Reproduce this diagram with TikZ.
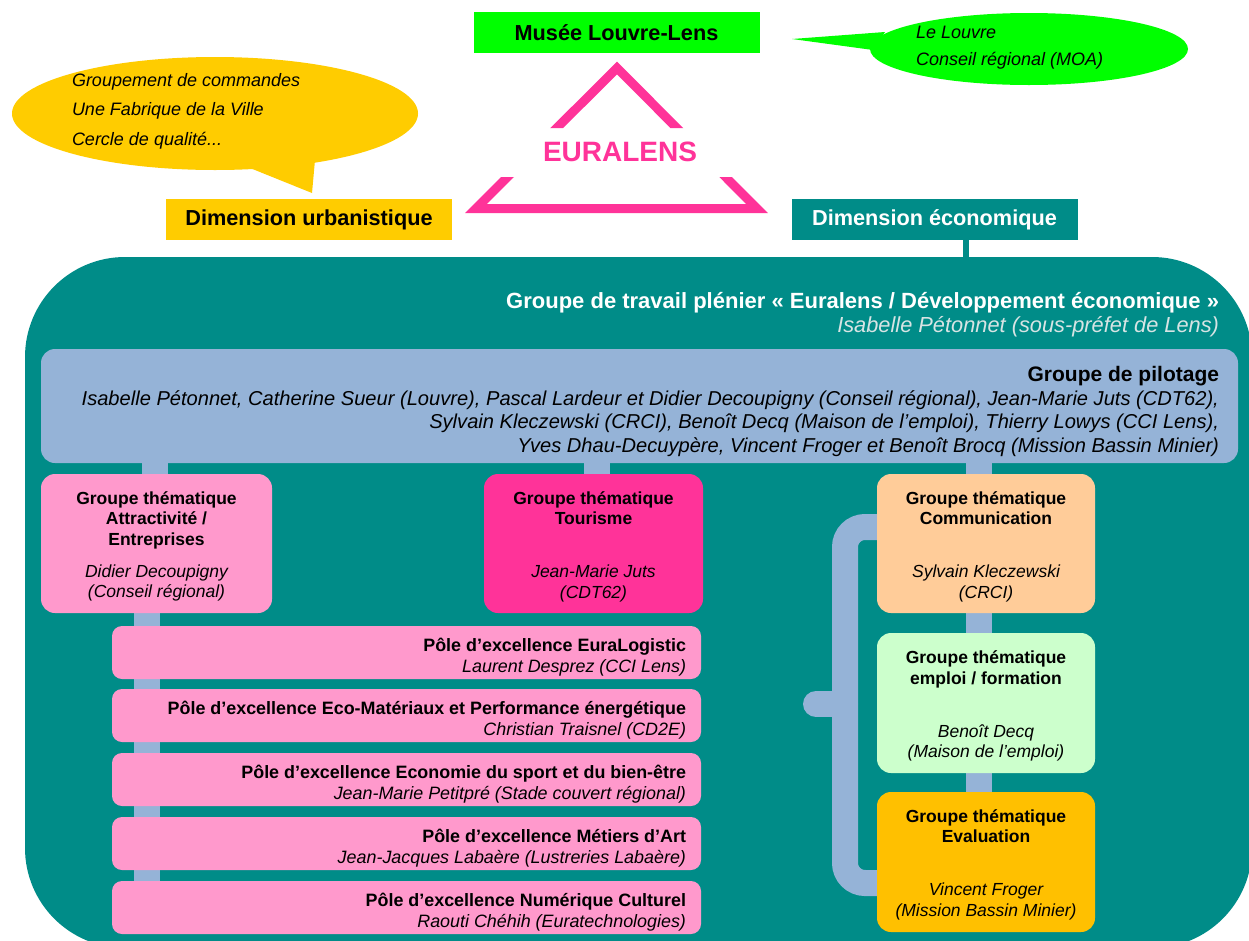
\documentclass[tikz,border=0pt]{standalone}
\usepackage{fontspec}
\setmainfont{Liberation Sans}
\usetikzlibrary{shapes.geometric,calc}
\definecolor{euteal}{RGB}{0,140,136}
\definecolor{pilblue}{RGB}{149,179,215}
\definecolor{rosel}{RGB}{255,153,204}
\definecolor{roseh}{RGB}{255,51,153}
\definecolor{peach}{RGB}{255,204,153}
\definecolor{vertp}{RGB}{204,255,204}
\definecolor{ordor}{RGB}{255,192,0}
\definecolor{jaune}{RGB}{255,204,0}
\definecolor{vertv}{RGB}{0,255,0}
\definecolor{grisc}{RGB}{215,228,228}
\newcommand\fsz[2]{\fontsize{#1}{#2}\selectfont}
\newcommand\nm[1]{{\mdseries\itshape #1}}
\pgfdeclarelayer{bg}\pgfdeclarelayer{conn}\pgfsetlayers{bg,conn,main}
\begin{document}
\begin{tikzpicture}[x=1pt,y=-1pt,
  every node/.style={inner sep=0pt,outer sep=0pt},
  head/.style={fill=#1, minimum width=286pt, minimum height=41pt, font=\fsz{21.7}{24}\bfseries},
  bubtxt/.style={anchor=west, font=\fsz{18}{22}\itshape},
  tbox/.style={rounded corners=14pt, minimum height=139pt},
  ttxt/.style={align=center, font=\fsz{17.5}{20.5}\bfseries},
  pole/.style={fill=rosel, rounded corners=10pt, minimum width=589pt, minimum height=53pt},
  ptxt/.style={anchor=east, align=right, font=\fsz{17.9}{21}\bfseries},
  link/.style={draw=pilblue, line width=26pt}]
\useasboundingbox (0,0) rectangle (1249,940);
\begin{pgfonlayer}{bg}
\fill[white] (0,0) rectangle (1249,940);
\end{pgfonlayer}

% yellow speech bubble
\node[ellipse, fill=jaune, minimum width=406pt, minimum height=113pt] (bubU) at (215,113.5) {};
\fill[jaune] (245,166) -- (312,193) -- (315,160) -- cycle;
\node[bubtxt] (bu1) at (72,82) {Groupement de commandes};
\node[bubtxt] (bu2) at (72,111) {Une Fabrique de la Ville};
\node[bubtxt] (bu3) at (72,141) {Cercle de qualité...};

\node[head=jaune] (urb) at (309,219.5) {Dimension urbanistique};
\node[head=vertv] (musee) at (616.5,32.5) {Musée Louvre-Lens};

% green speech bubble
\node[ellipse, fill=vertv, minimum width=318pt, minimum height=72pt] (bubL) at (1029,49) {};
\fill[vertv] (792,39) -- (885,32) -- (873,50) -- cycle;
\node[bubtxt] (bl1) at (916,32) {Le Louvre};
\node[bubtxt] (bl2) at (916,61) {Conseil régional (MOA)};

% triangle
\begin{scope}
\clip (430,40) rectangle (800,128) (430,177) rectangle (800,230);
\draw[roseh, line width=9pt, line join=miter] (476,208.5) -- (617,68) -- (757,208.5) -- cycle;
\end{scope}
\node[font=\fsz{28}{32}\bfseries, text=roseh] (eura) at (620,152) {EURALENS};

\node[head=euteal, text=white] (eco) at (934.5,219.5) {Dimension économique};

% container
\begin{pgfonlayer}{bg}
\node[fill=euteal, rounded corners=100pt, minimum width=1227pt, minimum height=691pt, anchor=north west] (plen) at (25,257) {};
\end{pgfonlayer}
\draw[euteal, line width=6pt] ($(eco.south)+(31.5,0)$) -- ($(eco.south |- plen.north)+(31.5,0)$);

\node[anchor=east, text=white, font=\fsz{22}{24}\bfseries] (gtp) at (1219,303) {Groupe de travail plénier « Euralens / Développement économique »};
\node[anchor=east, text=grisc, font=\fsz{21.8}{24}\itshape] (gtpn) at (1219,327) {Isabelle Pétonnet (sous-préfet de Lens)};

% pilotage
\node[fill=pilblue, rounded corners=14pt, minimum width=1197pt, minimum height=114pt] (pil) at (639.5,406) {};
\node[anchor=east, align=right, font=\fsz{20.1}{23.7}\itshape] (piltxt) at ($(pil.east)+(-19,5.5)$)
 {{\fsz{21}{23.7}\bfseries\upshape Groupe de pilotage}\\
  Isabelle Pétonnet, Catherine Sueur (Louvre), Pascal Lardeur et Didier Decoupigny (Conseil régional), Jean-Marie Juts (CDT62),\\
  Sylvain Kleczewski (CRCI), Benoît Decq (Maison de l'emploi), Thierry Lowys (CCI Lens),\\
  Yves Dhau-Decuypère, Vincent Froger et Benoît Brocq (Mission Bassin Minier)};

% thematic groups
\node[tbox, fill=rosel, minimum width=231pt] (attr) at (156.5,543.5) {};
\node[ttxt] (attrtxt) at ($(attr.center)+(0,3)$)
 {Groupe thématique\\Attractivité /\\Entreprises\\[11.5pt]\nm{Didier Decoupigny}\\\nm{(Conseil régional)}};
\node[tbox, fill=roseh, minimum width=219pt] (tour) at (593.5,543.5) {};
\node[ttxt] (tourtxt) at ($(tour.center)+(0,3)$)
 {Groupe thématique\\Tourisme\\[32.5pt]\nm{Jean-Marie Juts}\\\nm{(CDT62)}};
\node[tbox, fill=peach, minimum width=218pt] (comm) at (986,543.5) {};
\node[ttxt] (commtxt) at ($(comm.center)+(0,3)$)
 {Groupe thématique\\Communication\\[32.5pt]\nm{Sylvain Kleczewski}\\\nm{(CRCI)}};
\node[tbox, fill=vertp, minimum width=218pt, minimum height=140pt] (empl) at (986,703) {};
\node[ttxt] (empltxt) at ($(empl.center)+(0,3)$)
 {Groupe thématique\\emploi / formation\\[32.5pt]\nm{Benoît Decq}\\\nm{(Maison de l'emploi)}};
\node[tbox, fill=ordor, minimum width=218pt, minimum height=140pt] (eval) at (986,862) {};
\node[ttxt] (evaltxt) at ($(eval.center)+(0,2.5)$)
 {Groupe thématique\\Evaluation\\[32.5pt]\nm{Vincent Froger}\\\nm{(Mission Bassin Minier)}};

% poles
\node[pole] (p1) at (406.5,652.5) {};
\node[ptxt] (p1t) at ($(p1.east)+(-15,5)$) {Pôle d'excellence EuraLogistic\\\nm{Laurent Desprez (CCI Lens)}};
\node[pole] (p2) at (406.5,715.5) {};
\node[ptxt] (p2t) at ($(p2.east)+(-15,5)$) {Pôle d'excellence Eco-Matériaux et Performance énergétique\\\nm{Christian Traisnel (CD2E)}};
\node[pole] (p3) at (406.5,779.5) {};
\node[ptxt] (p3t) at ($(p3.east)+(-15,5)$) {Pôle d'excellence Economie du sport et du bien-être\\\nm{Jean-Marie Petitpré (Stade couvert régional)}};
\node[pole] (p4) at (406.5,843.5) {};
\node[ptxt] (p4t) at ($(p4.east)+(-15,5)$) {Pôle d'excellence Métiers d'Art\\\nm{Jean-Jacques Labaère (Lustreries Labaère)}};
\node[pole] (p5) at (406.5,907.5) {};
\node[ptxt] (p5t) at ($(p5.east)+(-15,5)$) {Pôle d'excellence Numérique Culturel\\\nm{Raouti Chéhih (Euratechnologies)}};

% connectors
\begin{pgfonlayer}{conn}
\draw[link] ($(attr.center |- pil.center)+(-1.5,0)$) -- ($(attr.center)+(-1.5,0)$);
\draw[link] ($(tour.center |- pil.center)+(3.5,0)$) -- ($(tour.center)+(3.5,0)$);
\draw[link] ($(comm.center |- pil.center)+(-7,0)$) -- ($(comm.center)+(-7,0)$);
\draw[link] ($(comm.center)+(-7,0)$) -- ($(eval.center)+(-7,0)$);
\draw[link] ($(attr.center)+(-9.5,0)$) -- ($(attr.center |- p5.center)+(-9.5,0)$);
\coordinate (brm) at (845,704);
\draw[link, rounded corners=20pt] ($(comm.west)+(20,-16.5)$) -| (brm) |- ($(eval.west)+(20,21)$);
\draw[link, line cap=round] (brm) -- ++(-29,0);
\end{pgfonlayer}
\end{tikzpicture}
\end{document}
